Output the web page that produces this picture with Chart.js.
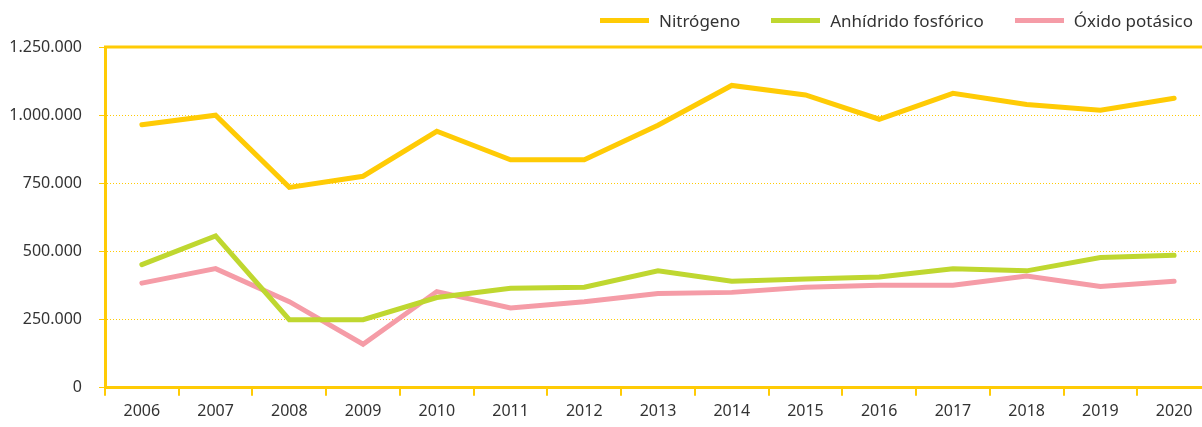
<!DOCTYPE html>
<html>
<head>
<meta charset="utf-8">
<script src="https://cdn.jsdelivr.net/npm/chart.js@4.4.0/dist/chart.umd.min.js"></script>
<style>
  body { margin: 0; background: #fff; overflow: hidden; }
  #wrap { position: relative; width: 1202px; height: 427px; overflow: hidden; }
  #box { position: absolute; left: 0; top: 0; width: 1211px; height: 427px; }
  #legend { position: absolute; right: 9px; top: 9px; display: flex; align-items: center;
            font-family: "Noto Sans", sans-serif; font-size: 17px; color: #333; z-index: 2; }
  #legend .item { display: flex; align-items: center; margin-left: 31px; }
  #legend .sw { width: 49px; height: 5px; margin-right: 10px; }
</style>
</head>
<body>
<div id="wrap">
  <div id="legend"></div>
  <div id="box"><canvas id="fertChart"></canvas></div>
</div>
<script>
// datos (toneladas)
const years = ['2006','2007','2008','2009','2010','2011','2012','2013','2014','2015','2016','2017','2018','2019','2020'];
const nitrogeno = [965000, 1000000, 735000, 776000, 941000, 836000, 836000, 963000, 1109000, 1074000, 985000, 1080000, 1039000, 1018000, 1062000];
const anhidrido = [452000, 557000, 250000, 250000, 331000, 365000, 369000, 429000, 391000, 399000, 406000, 437000, 429000, 478000, 486000];
const oxido = [384000, 437000, 316000, 160000, 353000, 293000, 316000, 346000, 350000, 369000, 376000, 376000, 410000, 372000, 391000];
const yTicks = [0, 250000, 500000, 750000, 1000000, 1250000];

const seriesNames = ['Nitrógeno', 'Anhídrido fosfórico', 'Óxido potásico'];
const seriesColors = ['#ffcb05', '#bfd730', '#f59ca7'];
const axisYellow = '#ffcb05';

const ctx = document.getElementById('fertChart').getContext('2d');

const mkSet = (i, data) => ({
    label: seriesNames[i],
    data: data,
    borderColor: seriesColors[i],
    backgroundColor: seriesColors[i],
    borderWidth: 5,
    borderCapStyle: 'round',
    borderJoinStyle: 'miter',
    pointRadius: 0,
    tension: 0,
    fill: false,
});

//---- top border line of the plot ----
const topLine = {
    id: 'topLine',
    afterDraw(chart) {
        const {ctx, chartArea} = chart;
        ctx.save();
        ctx.strokeStyle = axisYellow;
        ctx.lineWidth = 3;
        ctx.beginPath();
        ctx.moveTo(chartArea.left - 1, chartArea.top);
        ctx.lineTo(chartArea.right, chartArea.top);
        ctx.stroke();
        ctx.restore();
    }
};

const fmt = v => v.toLocaleString('de-DE');

const fertChart = new Chart(ctx, {
    type: 'line',
    data: {
        labels: years,
        datasets: [mkSet(0, nitrogeno), mkSet(1, anhidrido), mkSet(2, oxido)],
    },
    options: {
        responsive: true,
        maintainAspectRatio: false,
        animation: false,
        layout: { padding: { top: 47, bottom: 0, left: 0, right: 0 } },
        plugins: {
            legend: { display: false },
            tooltip: { enabled: false },
        },
        scales: {
            x: {
                offset: true,
                grid: {
                    offset: true,
                    drawOnChartArea: false,
                    drawTicks: true,
                    tickLength: 8,
                    color: axisYellow,
                    lineWidth: 2,
                },
                border: { display: true, color: axisYellow, width: 3 },
                ticks: {
                    color: '#333',
                    padding: 6,
                    maxRotation: 0,
                    font: { family: 'Noto Sans', size: 16 },
                },
            },
            y: {
                min: 0,
                max: 1250000,
                afterFit(scale) { scale.width = 105; },
                afterBuildTicks(scale) { scale.ticks = yTicks.map(v => ({ value: v })); },
                grid: {
                    color: axisYellow,
                    lineWidth: 1,
                    tickLength: 6,
                    tickBorderDash: [],
                },
                border: { display: true, color: axisYellow, width: 3, dash: [1, 2] },
                ticks: {
                    color: '#333',
                    padding: 17,
                    font: { family: 'Noto Sans', size: 16 },
                    callback: v => fmt(v),
                },
            },
        },
    },
    plugins: [topLine],
});

// leyenda HTML
const legendEl = document.getElementById('legend');
fertChart.data.datasets.forEach(ds => {
    const item = document.createElement('div');
    item.className = 'item';
    const sw = document.createElement('span');
    sw.className = 'sw';
    sw.style.background = ds.borderColor;
    const txt = document.createElement('span');
    txt.textContent = ds.label;
    item.appendChild(sw);
    item.appendChild(txt);
    legendEl.appendChild(item);
});
</script>
</body>
</html>
